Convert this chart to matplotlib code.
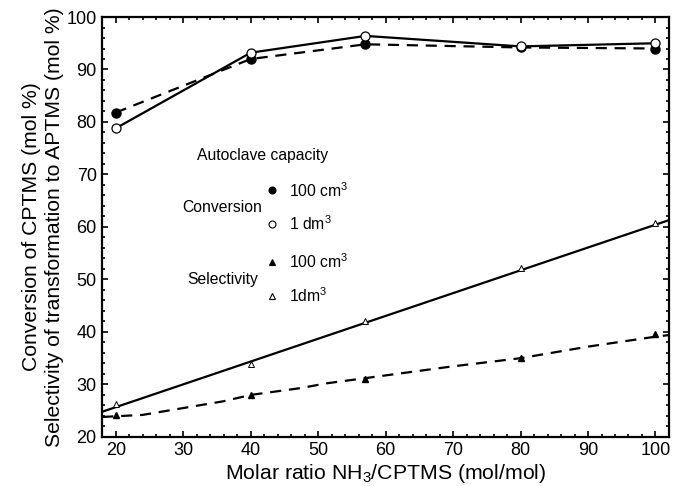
import numpy as np
import matplotlib
matplotlib.use("Agg")
import matplotlib.pyplot as plt
from matplotlib.ticker import MultipleLocator

plt.rcParams['font.family'] = ['Liberation Sans', 'DejaVu Sans']
plt.rcParams['mathtext.fontset'] = 'custom'
plt.rcParams['mathtext.rm'] = 'Liberation Sans'
plt.rcParams['mathtext.it'] = 'Liberation Sans:italic'

# molar ratio NH3/CPTMS
ratio = [20, 40, 57, 80, 100]

# conversion of CPTMS (mol %)
conv_100cm3 = [81.8, 92.0, 94.8, 94.2, 94.0]
conv_1dm3 = [78.8, 93.2, 96.4, 94.4, 95.0]

# selectivity to APTMS (mol %)
sel_100cm3 = [24.1, 28.0, 31.1, 35.0, 39.7]
sel_1dm3 = [26.2, 33.9, 42.1, 52.2, 60.7]

# trend curves as drawn in the figure
sel_1dm3_fit_x = [18, 102]
sel_1dm3_fit_y = [24.8, 61.3]
sel_100cm3_fit_x = [18, 24, 36, 40, 47.4, 51.2, 57, 69.7, 80, 90, 100, 102]
sel_100cm3_fit_y = [23.8, 24.2, 26.8, 28.0, 29.3, 30.2, 31.2, 33.4, 35.0, 37.2, 39.1, 39.4]

fig = plt.figure(figsize=(6.73, 4.86), dpi=100)
ax = fig.add_axes([0.152, 0.101, 0.842, 0.864])

dash = (0, (5, 3.5))
ax.plot(ratio, conv_100cm3, color='black', lw=1.6, ls=dash,
        marker='o', ms=6.5, mfc='black', mec='black')
ax.plot(ratio, conv_1dm3, color='black', lw=1.6, ls='-',
        marker='o', ms=6.5, mfc='white', mec='black', mew=0.9)

ax.plot(sel_1dm3_fit_x, sel_1dm3_fit_y, color='black', lw=1.6, ls='-')
ax.plot(sel_100cm3_fit_x, sel_100cm3_fit_y, color='black', lw=1.6, ls=dash)
ax.plot(ratio, sel_100cm3, ls='none', marker='^', ms=5, mfc='black', mec='black')
ax.plot(ratio, sel_1dm3, ls='none', marker='^', ms=5, mfc='white', mec='black', mew=0.7)

# hand-made legend
fs = 11.3
ax.text(41.7, 73.7, 'Autoclave capacity', fontsize=fs, ha='center', va='center')
ax.text(35.8, 63.7, 'Conversion', fontsize=fs, ha='center', va='center')
ax.text(35.8, 49.9, 'Selectivity', fontsize=fs, ha='center', va='center')
leg_y = [67.0, 60.6, 53.3, 46.9]
leg_lbl = ['100 cm$^3$', '1 dm$^3$', '100 cm$^3$', '1dm$^3$']
leg_mk = ['o', 'o', '^', '^']
leg_fc = ['black', 'white', 'black', 'white']
for yy, lb, mk, fc in zip(leg_y, leg_lbl, leg_mk, leg_fc):
    ax.plot([43.2], [yy], ls='none', marker=mk, ms=5 if mk == 'o' else 4,
            mfc=fc, mec='black', mew=0.8)
    ax.text(45.7, yy, lb, fontsize=fs, ha='left', va='center')

ax.set_xlim(18, 102)
ax.set_ylim(20, 100)
ax.xaxis.set_major_locator(MultipleLocator(10))
ax.xaxis.set_minor_locator(MultipleLocator(2))
ax.yaxis.set_major_locator(MultipleLocator(10))
ax.yaxis.set_minor_locator(MultipleLocator(2))
ax.tick_params(which='both', direction='in', top=True, right=True, width=1.2)
ax.tick_params(which='major', length=4, labelsize=13, pad=4)
ax.tick_params(which='minor', length=2)
for sp in ax.spines.values():
    sp.set_linewidth(1.6)

ax.set_xlabel('Molar ratio NH$_3$/CPTMS (mol/mol)', fontsize=15.3, labelpad=2)
ax.set_ylabel('Conversion of CPTMS (mol %)\nSelectivity of transformation to APTMS (mol %)',
              fontsize=15.2, labelpad=2, linespacing=1.25)

fig.savefig('out.png', dpi=100)
